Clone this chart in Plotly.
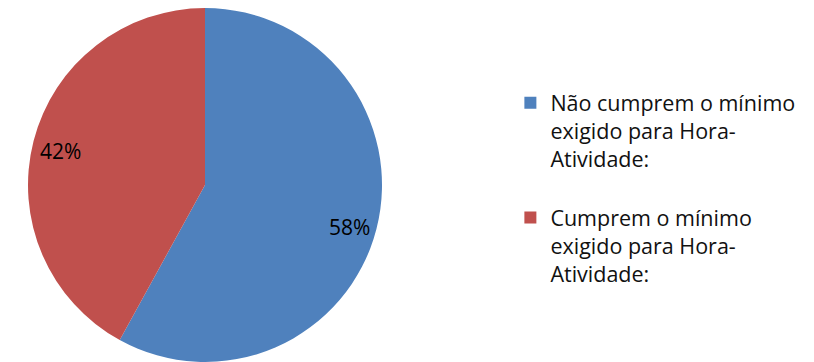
import math
import plotly.graph_objects as go

labels = ["Não cumprem o mínimo<br>exigido para Hora-<br>Atividade:<br> ",
          "Cumprem o mínimo<br>exigido para Hora-<br>Atividade:"]
values = [58, 42]
colors = ["#4F81BD", "#C0504D"]

W, H = 814, 362
TOP = 8
CX = 205.0
R = (H - TOP) / 2.0
CY = TOP + R

fig = go.Figure(go.Pie(
    labels=labels, values=values, sort=False, direction="clockwise", rotation=0,
    marker=dict(colors=colors, line=dict(width=0)),
    textinfo="none",
    domain=dict(x=[0.0, 2 * CX / W], y=[0, 1]),
))

# percentage labels placed along each slice's mid-angle, derived from the data
total = sum(values)
cum = 0.0
for v in values:
    mid = (cum + v / 2.0) / total * 2 * math.pi
    cum += v
    px = CX + 0.84 * R * math.sin(mid)
    py = CY - 0.88 * R * math.cos(mid)
    fig.add_annotation(x=px / W, y=1 - py / H, xref="paper", yref="paper",
                       xanchor="center", yanchor="middle",
                       text=f"{round(v / total * 100)}%", showarrow=False,
                       font=dict(family="Open Sans", size=21, color="#000000"))

fig.update_layout(
    width=W, height=H, margin=dict(l=0, r=0, t=TOP, b=0),
    paper_bgcolor="white", plot_bgcolor="white",
    legend=dict(x=0.627, y=0.79, xanchor="left", yanchor="top", valign="top",
                font=dict(family="Open Sans", size=21.5, color="#111111"),
                itemsizing="constant"),
    showlegend=True,
)
fig.write_html("out.html")
